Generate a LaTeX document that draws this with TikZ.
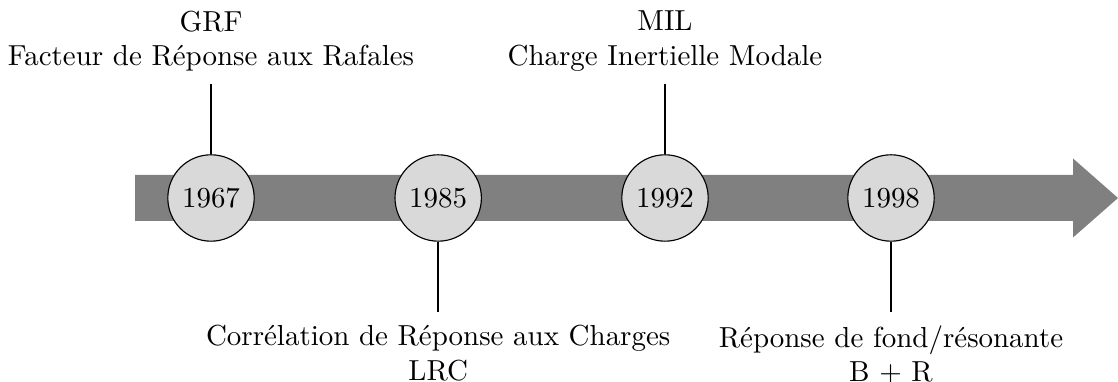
\documentclass[tikz,border=0pt]{standalone}
\usetikzlibrary{positioning}
\begin{document}
\begin{tikzpicture}[x=1cm,y=1cm,font=\fontsize{10.3}{12.2}\selectfont,year/.style={circle,draw,fill=gray!30,minimum size=1.08cm,inner sep=0pt},lbl/.style={align=center,inner sep=4.5pt},tick/.style={thick}]
\useasboundingbox (-1.6875,-2.3) rectangle (12.2875,2.475);
\fill[gray] (0,-.2875) -- (11.725,-.2875) -- (11.725,-.494) -- (12.2875,0) -- (11.725,.494) -- (11.725,.2875) -- (0,.2875) -- cycle;
\foreach \i/\x/\v in {1/0.95/1967,2/3.79/1985,3/6.625/1992,4/9.45/1998}{\node[year] (y\i) at (\x,0){\v};}
\node[lbl,above=.875cm of y1] (l1){GRF\\Facteur de Réponse aux Rafales};\draw[tick] (y1.north) -- (l1.south);
\node[lbl,below=.88cm of y2] (l2){Corrélation de Réponse aux Charges\\LRC};\draw[tick] (y2.south) -- (l2.north);
\node[lbl,above=.875cm of y3] (l3){MIL\\Charge Inertielle Modale};\draw[tick] (y3.north) -- (l3.south);
\node[lbl,below=.88cm of y4] (l4){Réponse de fond/résonante\\B + R};\draw[tick] (y4.south) -- (l4.north);
\end{tikzpicture}
\end{document}
